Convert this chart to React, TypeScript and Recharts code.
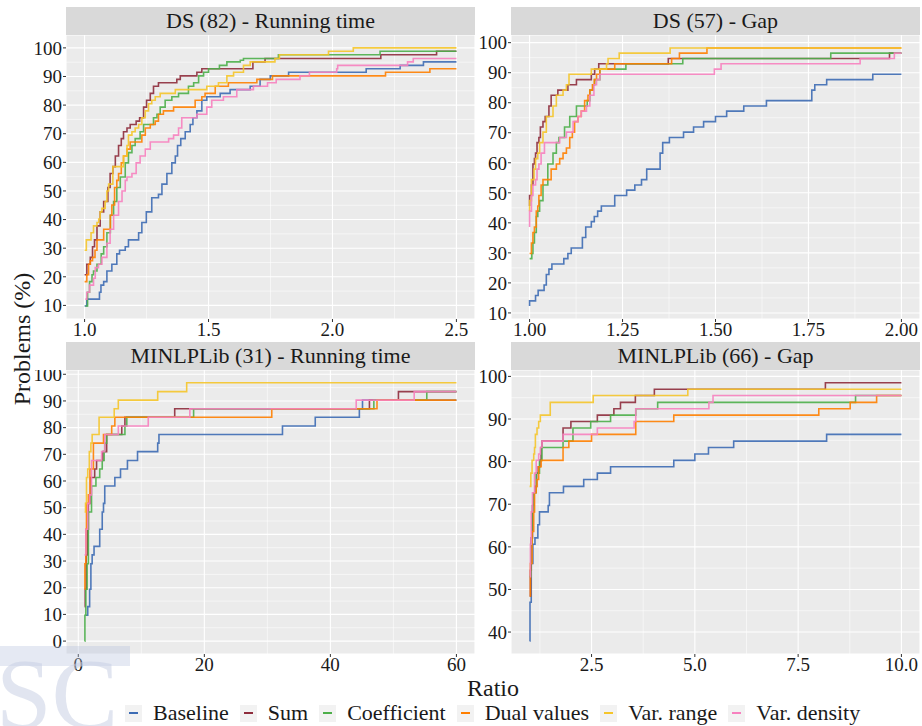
import { LineChart, Line, XAxis, YAxis, CartesianGrid, ReferenceLine } from 'recharts'

type Pt = [number, number]

const seriesNames = ['Baseline', 'Sum', 'Coefficient', 'Dual values', 'Var. range', 'Var. density']
const seriesColors = ['#3D6CB4', '#8E2C3C', '#4DAF4A', '#FF7F00', '#F5C52A', '#F781BF']

// DS (82) - Running time
const dsTimeBaseline: Pt[] = [[1.0, 9.8], [1.009, 12.2], [1.06, 14.6], [1.066, 17.1], [1.077, 18.3], [1.09, 22], [1.11, 24.4], [1.13, 28], [1.141, 29.3], [1.164, 30.5], [1.177, 32.9], [1.218, 35.4], [1.231, 39], [1.249, 42.7], [1.271, 47.6], [1.298, 48.8], [1.312, 52.4], [1.332, 56.1], [1.352, 59.8], [1.366, 62.2], [1.375, 65.9], [1.388, 68.3], [1.406, 70.7], [1.426, 73.2], [1.437, 75.6], [1.453, 78], [1.473, 81.7], [1.493, 82.9], [1.547, 84.1], [1.587, 85.4], [1.668, 86.6], [1.708, 89], [1.749, 90.2], [1.823, 91.5], [2.136, 92.7], [2.273, 93.9], [2.367, 95.1], [2.5, 95.1]]
const dsTimeSum: Pt[] = [[1.0, 20.7], [1.009, 24.4], [1.023, 26.8], [1.032, 30.5], [1.04, 32.9], [1.05, 37.8], [1.063, 42.7], [1.077, 46.3], [1.094, 51.2], [1.103, 56.1], [1.114, 58.5], [1.124, 62.2], [1.137, 65.9], [1.148, 68.3], [1.157, 70.7], [1.171, 72], [1.184, 73.2], [1.208, 74.4], [1.222, 75.6], [1.238, 79.3], [1.25, 81.7], [1.265, 84.1], [1.278, 86.6], [1.298, 87.8], [1.372, 89], [1.386, 90.2], [1.453, 91.5], [1.473, 92.7], [1.679, 95.1], [1.728, 96.3], [2.195, 97.6], [2.42, 98.8], [2.5, 98.8]]
const dsTimeCoef: Pt[] = [[1.003, 9.8], [1.012, 14.6], [1.02, 18.3], [1.03, 20.7], [1.036, 22], [1.05, 24.4], [1.067, 28], [1.077, 30.5], [1.09, 35.4], [1.104, 41.5], [1.117, 46.3], [1.13, 51.2], [1.144, 54.9], [1.164, 59.8], [1.177, 63.4], [1.191, 65.9], [1.204, 68.3], [1.224, 70.7], [1.238, 73.2], [1.278, 75.6], [1.292, 76.8], [1.305, 79.3], [1.325, 81.7], [1.352, 82.9], [1.379, 84.1], [1.419, 86.6], [1.44, 87.8], [1.46, 90.2], [1.48, 91.5], [1.5, 92.7], [1.544, 93.9], [1.574, 95.1], [1.628, 95.7], [1.641, 96.3], [1.782, 97.6], [2.192, 98.8], [2.5, 98.8]]
const dsTimeDual: Pt[] = [[1.0, 18.3], [1.009, 20.7], [1.016, 24.4], [1.023, 25.6], [1.032, 26.8], [1.042, 29.3], [1.05, 32.9], [1.077, 36.6], [1.104, 41.5], [1.11, 45.1], [1.121, 51.2], [1.13, 53.7], [1.137, 56.1], [1.148, 59.8], [1.157, 62.2], [1.171, 64.6], [1.184, 67.1], [1.231, 69.5], [1.245, 72], [1.265, 73.2], [1.285, 74.4], [1.298, 76.8], [1.318, 78], [1.359, 79.3], [1.446, 81.7], [1.473, 82.9], [1.486, 84.1], [1.527, 86.6], [1.58, 87.8], [1.695, 89], [1.758, 90.2], [2.214, 91.5], [2.393, 92.7], [2.5, 92.7]]
const dsTimeRange: Pt[] = [[1.0, 29.3], [1.007, 32.9], [1.026, 35.4], [1.036, 37.8], [1.05, 39], [1.057, 40.2], [1.063, 42.7], [1.07, 43.9], [1.083, 46.3], [1.09, 50], [1.097, 52.4], [1.114, 58.5], [1.157, 62.2], [1.171, 65.9], [1.177, 69.5], [1.191, 70.7], [1.204, 72], [1.218, 73.2], [1.231, 75.6], [1.245, 78], [1.258, 80.5], [1.271, 81.7], [1.285, 82.9], [1.305, 84.1], [1.366, 85.4], [1.493, 86.6], [1.54, 87.8], [1.574, 90.2], [1.601, 91.5], [1.641, 93.9], [1.668, 95.1], [1.768, 96.3], [1.786, 97.6], [1.984, 98.8], [2.084, 100], [2.5, 100]]
const dsTimeDensity: Pt[] = [[1.003, 12.2], [1.009, 14.6], [1.02, 17.1], [1.036, 19.5], [1.043, 23.2], [1.056, 24.4], [1.07, 26.8], [1.09, 31.7], [1.103, 36.6], [1.117, 41.5], [1.137, 46.3], [1.151, 50], [1.164, 53.7], [1.171, 54.9], [1.191, 56.1], [1.208, 59.8], [1.224, 62.2], [1.245, 64.6], [1.265, 67.1], [1.339, 68.3], [1.359, 69.5], [1.379, 72], [1.392, 75.6], [1.453, 76.8], [1.493, 79.3], [1.513, 81.7], [1.56, 82.9], [1.614, 85.4], [1.681, 86.6], [1.738, 87.8], [1.773, 89], [1.869, 90.2], [1.907, 91.5], [2.017, 92.7], [2.021, 93.9], [2.303, 95.1], [2.326, 96.3], [2.5, 96.3]]

// DS (57) - Gap
const dsGapBaseline: Pt[] = [[1.0, 12.3], [1.0, 14], [1.016, 15.8], [1.023, 17.5], [1.039, 19.3], [1.045, 22.8], [1.052, 24.6], [1.06, 26.3], [1.092, 28.1], [1.103, 29.8], [1.112, 31.6], [1.142, 35.1], [1.151, 38.6], [1.166, 40.4], [1.174, 42.1], [1.183, 43.9], [1.193, 45.6], [1.229, 49.1], [1.261, 50.9], [1.283, 52.6], [1.301, 54.4], [1.315, 57.9], [1.351, 63.2], [1.358, 66.7], [1.376, 68.4], [1.414, 70.2], [1.441, 71.9], [1.468, 73.7], [1.5, 75.4], [1.53, 77.2], [1.576, 78.9], [1.637, 80.7], [1.759, 84.2], [1.767, 86], [1.799, 87.7], [1.923, 89.5], [2.0, 89.5]]
const dsGapSum: Pt[] = [[1.0, 45.6], [1.0, 49.1], [1.005, 52.6], [1.009, 59.6], [1.013, 61.4], [1.016, 63.2], [1.02, 66.7], [1.025, 68.4], [1.029, 71.9], [1.036, 73.7], [1.042, 75.4], [1.052, 78.9], [1.058, 82.5], [1.076, 84.2], [1.103, 86], [1.126, 87.7], [1.166, 89.5], [1.175, 91.2], [1.186, 93], [1.373, 94.7], [1.968, 96.5], [2.0, 96.5]]
const dsGapCoef: Pt[] = [[1.0, 28.1], [1.006, 29.8], [1.009, 33.3], [1.013, 36.8], [1.018, 42.1], [1.022, 43.9], [1.027, 47.4], [1.036, 52.6], [1.049, 59.6], [1.063, 63.2], [1.072, 66.7], [1.079, 68.4], [1.094, 71.9], [1.108, 75.4], [1.126, 78.9], [1.155, 80.7], [1.162, 84.2], [1.171, 86], [1.175, 87.7], [1.189, 91.2], [1.259, 93], [1.412, 94.7], [1.81, 96.5], [2.0, 96.5]]
const dsGapDual: Pt[] = [[1.0, 29.8], [1.005, 33.3], [1.009, 36.8], [1.013, 38.6], [1.018, 43.9], [1.022, 45.6], [1.025, 49.1], [1.031, 52.6], [1.036, 54.4], [1.058, 57.9], [1.072, 59.6], [1.081, 61.4], [1.09, 63.2], [1.099, 64.9], [1.108, 68.4], [1.115, 70.2], [1.121, 73.7], [1.13, 75.4], [1.139, 77.2], [1.148, 80.7], [1.157, 82.5], [1.162, 84.2], [1.169, 86], [1.174, 87.7], [1.18, 89.5], [1.189, 91.2], [1.229, 93], [1.382, 94.7], [1.403, 96.5], [1.477, 98.2], [2.0, 98.2]]
const dsGapRange: Pt[] = [[1.0, 43.9], [1.0, 47.4], [1.005, 54.4], [1.012, 57.9], [1.016, 61.4], [1.022, 63.2], [1.027, 66.7], [1.036, 70.2], [1.045, 75.4], [1.063, 78.9], [1.072, 82.5], [1.09, 84.2], [1.099, 86], [1.106, 89.5], [1.166, 91.2], [1.207, 93], [1.211, 94.7], [1.241, 96.5], [1.378, 98.2], [2.0, 98.2]]
const dsGapDensity: Pt[] = [[1.0, 38.6], [1.0, 43.9], [1.005, 49.1], [1.009, 52.6], [1.016, 54.4], [1.02, 57.9], [1.025, 59.6], [1.031, 63.2], [1.04, 66.7], [1.081, 68.4], [1.099, 70.2], [1.117, 73.7], [1.13, 75.4], [1.139, 77.2], [1.153, 78.9], [1.162, 82.5], [1.173, 86], [1.18, 87.7], [1.189, 89.5], [1.497, 91.2], [1.515, 93], [1.889, 94.7], [1.981, 96.5], [2.0, 96.5]]

// MINLPLib (31) - Running time
const mlTimeBaseline: Pt[] = [[1.2, 9.7], [1.5, 12.9], [1.8, 19.4], [2.0, 29], [2.2, 32.3], [2.5, 35.5], [3.4, 41.9], [3.8, 48.4], [4.0, 51.6], [4.2, 58.1], [5.8, 61.3], [6.7, 64.5], [7.8, 67.7], [9.4, 71], [12.6, 74.2], [12.8, 77.4], [32.4, 80.6], [37.6, 83.9], [44.6, 87.1], [45.1, 90.3], [60, 90.3]]
const mlTimeSum: Pt[] = [[1.0, 12.9], [1.1, 19.4], [1.25, 32.3], [1.45, 41.9], [1.6, 51.6], [1.85, 54.8], [1.96, 61.3], [2.6, 64.5], [2.9, 67.7], [3.9, 71], [4.5, 77.4], [6.9, 80.6], [7.4, 83.9], [15.3, 87.1], [46.2, 90.3], [50.8, 93.5], [60, 93.5]]
const mlTimeCoef: Pt[] = [[1.0, 0], [1.05, 9.7], [1.2, 19.4], [1.4, 29], [1.6, 48.4], [2.1, 58.1], [2.8, 61.3], [3.4, 64.5], [3.8, 67.7], [4.1, 71], [4.2, 74.2], [4.5, 77.4], [7.4, 80.6], [7.7, 83.9], [18.3, 87.1], [46.9, 90.3], [55.3, 93.5], [60, 93.5]]
const mlTimeDual: Pt[] = [[1.0, 19.4], [1.05, 29], [1.2, 41.9], [1.3, 51.6], [1.6, 54.8], [1.85, 64.5], [2.4, 74.2], [4.0, 77.4], [5.3, 80.6], [5.8, 83.9], [30.7, 87.1], [47.4, 90.3], [60, 90.3]]
const mlTimeRange: Pt[] = [[1.0, 48.4], [1.15, 51.6], [1.3, 61.3], [1.5, 64.5], [1.75, 71], [2.0, 74.2], [2.2, 77.4], [3.3, 83.9], [5.7, 87.1], [6.35, 90.3], [12.6, 93.5], [17.2, 96.8], [60, 96.8]]
const mlTimeDensity: Pt[] = [[1.0, 32.3], [1.2, 41.9], [1.5, 51.6], [1.8, 54.8], [2.1, 67.7], [3.7, 71], [4.2, 77.4], [6.35, 80.6], [11.1, 83.9], [17.7, 87.1], [44.1, 90.3], [53.3, 93.5], [60, 93.5]]

// MINLPLib (66) - Gap
const mlGapBaseline: Pt[] = [[1.0, 37.9], [1.01, 47], [1.04, 56.1], [1.08, 60.6], [1.13, 62.1], [1.2, 65.2], [1.24, 68.2], [1.45, 69.7], [1.48, 72.7], [1.82, 74.2], [2.31, 75.8], [2.64, 77.3], [2.96, 78.8], [4.49, 80.3], [5.0, 81.8], [5.33, 83.3], [5.94, 84.8], [8.19, 86.4], [10, 86.4]]
const mlGapSum: Pt[] = [[1.0, 48.5], [1.02, 54.5], [1.04, 62.1], [1.07, 69.7], [1.1, 72.7], [1.13, 74.2], [1.17, 77.3], [1.21, 78.8], [1.25, 80.3], [1.28, 83.3], [1.3, 84.8], [1.81, 87.9], [2.0, 89.4], [2.64, 90.9], [3.04, 92.4], [3.2, 93.9], [3.56, 95.5], [4.02, 97], [8.16, 98.5], [10, 98.5]]
const mlGapCoef: Pt[] = [[1.0, 53], [1.03, 60.6], [1.06, 68.2], [1.1, 72.7], [1.16, 77.3], [1.24, 80.3], [1.3, 83.3], [1.81, 84.8], [2.05, 87.9], [2.48, 89.4], [2.96, 90.9], [3.57, 92.4], [4.1, 93.9], [8.89, 95.5], [10, 95.5]]
const mlGapDual: Pt[] = [[1.0, 48.5], [1.02, 56.1], [1.06, 63.6], [1.1, 68.2], [1.12, 72.7], [1.16, 74.2], [1.18, 75.8], [1.22, 78.8], [1.28, 80.3], [1.81, 83.3], [1.95, 84.8], [2.5, 86.4], [3.57, 89.4], [4.49, 90.9], [8.0, 92.4], [8.76, 93.9], [9.4, 95.5], [10, 95.5]]
const mlGapRange: Pt[] = [[1.0, 74.2], [1.03, 77.3], [1.06, 80.3], [1.1, 81.8], [1.12, 83.3], [1.14, 86.4], [1.18, 87.9], [1.22, 89.4], [1.26, 90.9], [1.5, 93.9], [2.54, 95.5], [4.83, 97], [10, 97]]
const mlGapDensity: Pt[] = [[1.0, 53], [1.02, 60.6], [1.04, 68.2], [1.07, 72.7], [1.12, 77.3], [1.16, 80.3], [1.22, 81.8], [1.26, 83.3], [1.3, 84.8], [1.81, 86.4], [2.64, 87.9], [3.53, 89.4], [3.57, 92.4], [5.34, 93.9], [5.44, 95.5], [10, 95.5]]

const FONT = "'Liberation Serif', serif"
const Y_AXIS_W = 50
const X_AXIS_H = 30
const PLOT_W = 409
const PLOT_H = 284
const STRIP_H = 28

type PanelProps = {
  title: string
  left: number
  top: number
  xDomain: [number, number]
  yDomain: [number, number]
  xTicks: number[]
  yTicks: number[]
  xMinor: number[]
  yMinor: number[]
  digits: number
  series: Pt[][]
}

function Panel({ title, left, top, xDomain, yDomain, xTicks, yTicks, xMinor, yMinor, digits, series }: PanelProps) {
  return (
    <>
      <div
        style={{
          position: 'absolute', left, top: top - STRIP_H, width: PLOT_W, height: STRIP_H,
          background: '#D9D9D9', color: '#1A1A1A', fontFamily: FONT, fontSize: 22,
          display: 'flex', alignItems: 'center', justifyContent: 'center',
        }}
      >
        {title}
      </div>
      <div style={{ position: 'absolute', left: left - Y_AXIS_W, top }}>
        <LineChart width={PLOT_W + Y_AXIS_W} height={PLOT_H + X_AXIS_H} margin={{ top: 0, right: 0, bottom: 0, left: 0 }}>
          <CartesianGrid stroke="#FFFFFF" strokeWidth={1.1} fill="#EBEBEB" />
          {xMinor.map((v) => (
            <ReferenceLine key={'x' + v} x={v} stroke="#FFFFFF" strokeWidth={0.55} />
          ))}
          {yMinor.map((v) => (
            <ReferenceLine key={'y' + v} y={v} stroke="#FFFFFF" strokeWidth={0.55} />
          ))}
          <XAxis
            type="number" dataKey="x" domain={xDomain} ticks={xTicks} allowDataOverflow interval={0}
            height={X_AXIS_H} axisLine={false} tickSize={3} tickMargin={1}
            tickLine={{ stroke: '#333333' }}
            tick={{ fill: '#1A1A1A', fontSize: 19, fontFamily: FONT }}
            tickFormatter={(v: number) => v.toFixed(digits)}
          />
          <YAxis
            type="number" domain={yDomain} ticks={yTicks} allowDataOverflow interval={0}
            width={Y_AXIS_W} axisLine={false} tickSize={3} tickMargin={1}
            tickLine={{ stroke: '#333333' }}
            tick={{ fill: '#1A1A1A', fontSize: 19, fontFamily: FONT }}
          />
          {series.map((pts, i) => (
            <Line
              key={seriesNames[i]}
              name={seriesNames[i]}
              data={pts.map(([x, y]) => ({ x, y }))}
              dataKey="y"
              type="stepAfter"
              stroke={seriesColors[i]}
              strokeWidth={1.6}
              strokeOpacity={0.9}
              dot={false}
              activeDot={false}
              isAnimationActive={false}
            />
          ))}
        </LineChart>
      </div>
    </>
  )
}

const tens = (from: number, to: number) => {
  const out: number[] = []
  for (let v = from; v <= to; v += 10) out.push(v)
  return out
}

export default function App() {
  return (
    <div style={{ position: 'absolute', left: 0, top: 0, width: 922, height: 726, background: '#FFFFFF', overflow: 'hidden' }}>
      <Panel
        title="DS (82) - Running time" left={66} top={35}
        xDomain={[0.925, 2.575]} yDomain={[5.25, 104.5]}
        xTicks={[1, 1.5, 2, 2.5]} yTicks={tens(10, 100)}
        xMinor={[1.25, 1.75, 2.25]} yMinor={tens(15, 95)} digits={1}
        series={[dsTimeBaseline, dsTimeSum, dsTimeCoef, dsTimeDual, dsTimeRange, dsTimeDensity]}
      />
      <Panel
        title="DS (57) - Gap" left={511} top={35}
        xDomain={[0.95, 2.05]} yDomain={[7.98, 102.55]}
        xTicks={[1, 1.25, 1.5, 1.75, 2]} yTicks={tens(10, 100)}
        xMinor={[1.125, 1.375, 1.625, 1.875]} yMinor={tens(15, 95)} digits={2}
        series={[dsGapBaseline, dsGapSum, dsGapCoef, dsGapDual, dsGapRange, dsGapDensity]}
      />
      <Panel
        title="MINLPLib (31) - Running time" left={66} top={370}
        xDomain={[-1.95, 62.95]} yDomain={[-4.84, 101.6]}
        xTicks={[0, 20, 40, 60]} yTicks={tens(0, 100)}
        xMinor={[10, 30, 50]} yMinor={tens(5, 95)} digits={0}
        series={[mlTimeBaseline, mlTimeSum, mlTimeCoef, mlTimeDual, mlTimeRange, mlTimeDensity]}
      />
      <Panel
        title="MINLPLib (66) - Gap" left={511} top={370}
        xDomain={[0.55, 10.45]} yDomain={[34.85, 101.5]}
        xTicks={[2.5, 5, 7.5, 10]} yTicks={tens(40, 100)}
        xMinor={[1.25, 3.75, 6.25, 8.75]} yMinor={tens(45, 95)} digits={1}
        series={[mlGapBaseline, mlGapSum, mlGapCoef, mlGapDual, mlGapRange, mlGapDensity]}
      />

      <div
        style={{
          position: 'absolute', left: 22, top: 339, transform: 'translate(-50%, -50%) rotate(-90deg)',
          fontFamily: FONT, fontSize: 24, color: '#1A1A1A', whiteSpace: 'nowrap',
        }}
      >
        Problems (%)
      </div>
      <div
        style={{
          position: 'absolute', left: 493, top: 688, transform: 'translate(-50%, -50%)',
          fontFamily: FONT, fontSize: 24, color: '#1A1A1A', whiteSpace: 'nowrap',
        }}
      >
        Ratio
      </div>

      <div
        style={{
          position: 'absolute', left: 0, top: 646, width: 130, height: 20,
          background: 'rgba(180, 192, 220, 0.35)',
        }}
      />
      <div
        style={{
          position: 'absolute', left: -4, top: 644, fontFamily: FONT, fontSize: 100, lineHeight: '100px',
          color: 'rgba(200, 208, 228, 0.55)', whiteSpace: 'nowrap',
        }}
      >
        SC
      </div>

      <div
        style={{
          position: 'absolute', left: 125, top: 701, height: 24,
          display: 'flex', alignItems: 'center',
          fontFamily: FONT, fontSize: 22, color: '#1A1A1A', whiteSpace: 'nowrap',
        }}
      >
        {seriesNames.map((name, i) => (
          <div key={name} style={{ display: 'flex', alignItems: 'center', marginRight: i < seriesNames.length - 1 ? 11 : 0 }}>
            <div style={{ width: 17, height: 17, background: '#F2F2F2', display: 'flex', alignItems: 'center', justifyContent: 'center', marginRight: 11 }}>
              <div style={{ width: 9, height: 2.5, background: seriesColors[i] }} />
            </div>
            <span>{name}</span>
          </div>
        ))}
      </div>
    </div>
  )
}
